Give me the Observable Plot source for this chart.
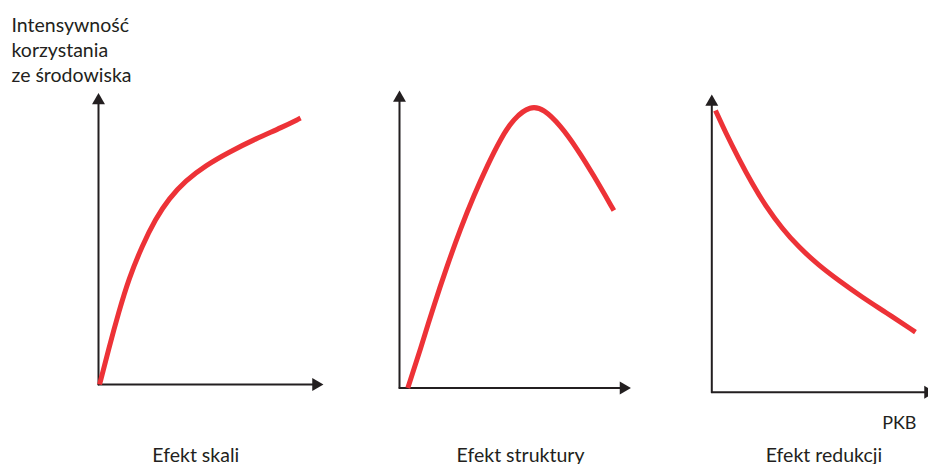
<!DOCTYPE html>
<html>
<head>
<meta charset="utf-8">
<script src="https://cdn.jsdelivr.net/npm/d3@7"></script>
<script src="https://cdn.jsdelivr.net/npm/@observablehq/plot@0.6"></script>
<style>
  html, body { margin: 0; padding: 0; background: #fff; }
  #chart { position: relative; width: 928px; height: 464px; overflow: hidden; }
  #chart svg { position: absolute; left: 0; top: 0; overflow: hidden; }
</style>
</head>
<body>
<div id="chart"></div>
<script>
// ---- data (abstract units: PKB 0–10, intensity 0–10) ----
const panelTitles = ["Efekt skali", "Efekt struktury", "Efekt redukcji"];
const yTitle = "Intensywność\nkorzystania\nze środowiska";
const xTitle = "PKB";

const scaleGdp       = [0.05, 0.47, 0.93, 1.39, 2.01, 2.62, 3.23, 4.00, 4.92, 5.99, 7.22, 8.45, 9.29];
const scaleIntensity = [0.00, 1.26, 2.55, 3.72, 4.89, 5.83, 6.54, 7.18, 7.71, 8.18, 8.65, 9.06, 9.38];

const structGdp       = [0.37, 0.94, 1.53, 2.13, 2.72, 3.32, 3.92, 4.51, 5.10, 5.85, 6.44, 7.19, 7.93, 8.67, 9.57];
const structIntensity = [0.00, 1.35, 2.84, 4.22, 5.49, 6.64, 7.67, 8.59, 9.30, 9.74, 9.62, 9.05, 8.25, 7.33, 6.12];

const reductGdp       = [0.17, 0.63, 1.25, 1.87, 2.48, 3.26, 4.02, 4.95, 5.87, 6.96, 8.03, 9.42];
const reductIntensity = [9.71, 8.96, 8.04, 7.18, 6.43, 5.63, 5.00, 4.37, 3.85, 3.27, 2.76, 2.07];

const axisMax = 10;

// ---- layout (pixels) ----
const W = 928, H = 464;
const frames = [
  {left: 98,    right: 315.5, top: 100,   bottom: 384,   captionDx: -11.5},
  {left: 399,   right: 623,   top: 97.5,  bottom: 387.5, captionDx: 9},
  {left: 711.3, right: 927.5, top: 101.5, bottom: 391.7, captionDx: 4}
];
const series = [
  [scaleGdp, scaleIntensity],
  [structGdp, structIntensity],
  [reductGdp, reductIntensity]
];

const ink = "#231f20";
const red = "#ed3237";
const font = "Lato, 'Open Sans', sans-serif";

const chart = document.getElementById("chart");

frames.forEach((f, i) => {
  const [xs, ys] = series[i];
  const pts = xs.map((x, k) => ({x, y: ys[k]}));
  const marks = [
    Plot.line([{x: 0, y: 0}, {x: axisMax, y: 0}], {x: "x", y: "y", stroke: ink, strokeWidth: 2}),
    Plot.line([{x: 0, y: 0}, {x: 0, y: axisMax}], {x: "x", y: "y", stroke: ink, strokeWidth: 2}),
    Plot.dot([{x: 0, y: axisMax}], {x: "x", y: "y", symbol: "triangle", r: 4.8, fill: ink, stroke: "none"}),
    Plot.dot([{x: axisMax, y: 0}], {x: "x", y: "y", symbol: "triangle", r: 4.8, rotate: 90, fill: ink, stroke: "none"}),
    Plot.line(pts, {x: "x", y: "y", curve: "basis", stroke: red, strokeWidth: 5, strokeLinecap: "butt"}),
    Plot.text([panelTitles[i]], {
      frameAnchor: "bottom", dx: f.captionDx, dy: 461 - f.bottom,
      lineAnchor: "bottom", textAnchor: "middle",
      fontSize: 19.5, fontFamily: font, fill: ink
    })
  ];
  if (i === 0) {
    marks.push(Plot.text([yTitle], {
      frameAnchor: "top-left", dx: 11 - f.left, dy: 81 - f.top,
      lineAnchor: "bottom", textAnchor: "start", lineHeight: 1.28,
      fontSize: 19.5, fontFamily: font, fill: ink
    }));
  }
  if (i === 2) {
    marks.push(Plot.text([xTitle], {
      frameAnchor: "bottom-right", dx: 916 - f.right, dy: 428 - f.bottom,
      lineAnchor: "bottom", textAnchor: "end",
      fontSize: 18, fontFamily: font, fill: ink
    }));
  }
  const svg = Plot.plot({
    width: W, height: H,
    marginLeft: f.left, marginRight: W - f.right,
    marginTop: f.top, marginBottom: H - f.bottom,
    x: {domain: [0, axisMax], axis: null},
    y: {domain: [0, axisMax], axis: null},
    style: {background: "transparent", overflow: "hidden"},
    marks
  });
  chart.appendChild(svg);
});
</script>
</body>
</html>
